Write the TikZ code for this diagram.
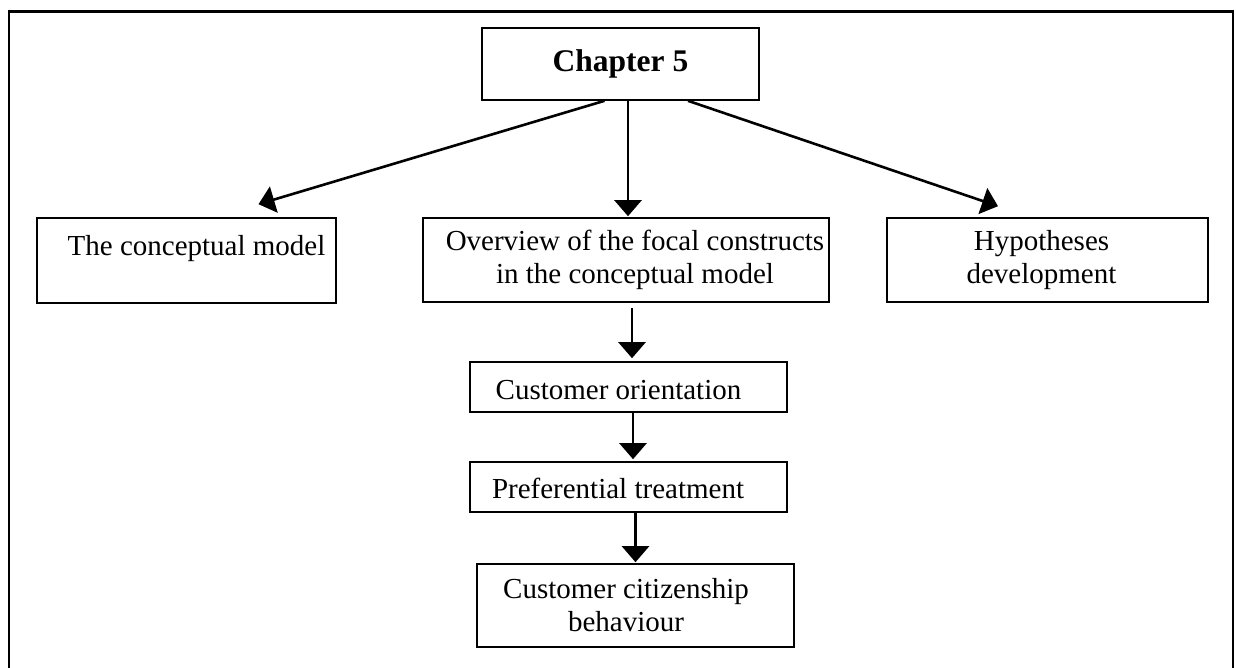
\documentclass[tikz,border=0pt]{standalone}
\usepackage{fontspec}
\setmainfont{Liberation Serif}
\usetikzlibrary{arrows.meta}

\begin{document}
\begin{tikzpicture}[x=1pt,y=-1pt,%%
  frameStyle/.style={line width=2.6pt},%%
  boxStyle/.style={draw,line width=1.6pt,inner sep=0pt,align=center,%%
    font=\fontsize{29}{33}\selectfont},%%
  arrowStyle/.style={line width=2.6pt,-{Triangle[length=16pt,width=27pt]}}
]
%%
\useasboundingbox (0,0) rectangle (1236,668);
%%
%% The frame round the whole figure, open at the bottom.
\draw[frameStyle] (9,668) -- (9,11.5) -- (1233,11.5) -- (1233,668);
%%
%% The chapter box.
\node[boxStyle,minimum width=277pt,minimum height=72pt] (chap) at (620.5,64)
  {\bfseries\fontsize{31.5}{36}\selectfont Chapter 5};
%%
%% The first row of boxes.
\node[boxStyle,minimum width=299pt,minimum height=85pt,
  text height=20pt,text depth=29pt] (concept) at (186.5,260.5)
  {\hspace*{20pt}The conceptual model};
\node[boxStyle,minimum width=406pt,minimum height=84pt] (ov) at (626,260)
  {\hspace*{18pt}Overview of the focal constructs\\\hspace*{18pt}in the conceptual model};
\node[boxStyle,minimum width=321pt,minimum height=84pt] (hyp) at (1047.5,260)
  {Hypotheses\hspace*{12pt}\\development\hspace*{12pt}};
%%
%% The chain of constructs.
\node[boxStyle,minimum width=317pt,minimum height=50pt,
  text height=30pt,text depth=6pt] (co) at (628.5,387)
  {Customer orientation\hspace*{20pt}};
\node[boxStyle,minimum width=317pt,minimum height=50pt,
  text height=28pt,text depth=6pt] (pref) at (628.5,487)
  {Preferential treatment\hspace*{21pt}};
\node[boxStyle,minimum width=317pt,minimum height=83pt] (ccb) at (635.5,605.5)
  {Customer citizenship\hspace*{19pt}\\behaviour\hspace*{19pt}};
%%
%% Arrows from the chapter box.
\draw[arrowStyle] ([xshift=-16pt]chap.south) -- ([xshift=72pt,yshift=13pt]concept.north);
\draw[arrowStyle] ([xshift=7.5pt]chap.south) -- ([xshift=2pt,yshift=1pt]ov.north);
\draw[arrowStyle] ([xshift=67.5pt]chap.south) -- ([xshift=-49.5pt,yshift=11pt]hyp.north);
%%
%% Arrows down the chain.
\draw[arrowStyle] ([xshift=6pt,yshift=-5pt]ov.south) -- ([xshift=3.5pt,yshift=3pt]co.north);
\draw[arrowStyle] ([xshift=4.5pt]co.south) -- ([xshift=4.5pt,yshift=2pt]pref.north);
\draw[arrowStyle] ([xshift=7pt]pref.south) -- ([yshift=1pt]ccb.north);
\end{tikzpicture}
\end{document}
